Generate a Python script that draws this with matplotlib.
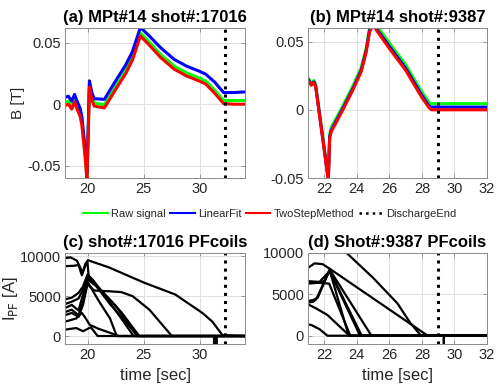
import numpy as np
import matplotlib
matplotlib.use("Agg")
import matplotlib.pyplot as plt
from matplotlib.lines import Line2D

plt.rcParams['font.family'] = ['Liberation Sans', 'DejaVu Sans']

# ---- panel (a): MPt#14, shot 17016 ----
t_a = [18.0, 18.3, 18.6, 18.85, 19.05, 19.35, 19.5, 19.8, 19.95, 20.05, 20.17, 20.4, 20.6, 21.5,
       22.5, 23.4, 24.0, 24.7, 25.5, 26.5, 27.7, 28.8, 29.9, 30.5, 31.3, 32.1, 33.0, 34.0]
red_a = [-0.001, 0.000, -0.004, 0.002, -0.0035, -0.010, -0.017, -0.044, -0.062, -0.030, 0.014, 0.003,
         -0.0015, -0.003, 0.012, 0.025, 0.036, 0.0555, 0.048, 0.038, 0.0285, 0.023, 0.019, 0.0165,
         0.009, 0.0005, 0.000, 0.000]
green_a = [0.0015, 0.0025, -0.0015, 0.0045, -0.001, -0.0075, -0.0145, -0.0415, -0.060, -0.0275, 0.0165,
           0.0055, 0.001, -0.0005, 0.0145, 0.0275, 0.0385, 0.058, 0.0505, 0.0405, 0.031, 0.0255, 0.0215,
           0.019, 0.0115, 0.003, 0.003, 0.003]
blue_a = [0.0055, 0.0065, 0.0025, 0.008, 0.003, -0.0035, -0.010, -0.037, -0.056, -0.024, 0.019, 0.009,
          0.0045, 0.004, 0.019, 0.032, 0.043, 0.0625, 0.0555, 0.046, 0.0365, 0.031, 0.027, 0.0245,
          0.018, 0.0095, 0.0095, 0.010]
end_a = 32.2

# ---- panel (b): MPt#14, shot 9387 ----
t_b = [21.0, 21.2, 21.37, 21.47, 22.25, 22.33, 22.43, 23.1, 23.76, 24.27, 24.58, 24.78, 25.0, 25.2,
       26.0, 27.0, 28.0, 28.46, 28.6, 30.0, 32.0]
red_b = [0.022, 0.018, 0.020, 0.017, -0.052, -0.021, -0.016, -0.001, 0.0146, 0.028, 0.0427, 0.057,
         0.063, 0.0585, 0.045, 0.029, 0.009, 0.0012, 0.000, 0.000, 0.000]
green_b = [0.0235, 0.0195, 0.0215, 0.0185, -0.050, -0.018, -0.013, 0.002, 0.0175, 0.031, 0.0455, 0.060,
           0.0655, 0.062, 0.049, 0.033, 0.013, 0.005, 0.0045, 0.0045, 0.0045]
blue_b = [0.0225, 0.0185, 0.0205, 0.0175, -0.051, -0.020, -0.015, 0.000, 0.0155, 0.029, 0.0437, 0.058,
          0.064, 0.0595, 0.0465, 0.0305, 0.0105, 0.0025, 0.002, 0.002, 0.002]
end_b = 29.0

# ---- panel (c): PF coil currents, shot 17016 ----
pf_c_t = [
    [18, 18.5, 19.05, 19.35, 19.55, 19.8, 20.03, 21.9, 25.0, 27.8, 30.2, 31.1, 32.0, 34],
    [18, 18.8, 19.2, 19.5, 19.8, 20.0, 20.1, 22.0, 24.5, 34],
    [18, 18.6, 19.2, 19.6, 20.0, 20.5, 22.0, 24.1, 34],
    [18, 18.6, 19.2, 19.6, 20.0, 20.5, 22.5, 24.4, 34],
    [18, 18.6, 19.2, 19.6, 20.0, 21.0, 23.0, 24.6, 34],
    [18, 18.6, 19.2, 19.6, 20.0, 21.0, 22.0, 22.6, 31.25, 31.25, 31.25, 34],
    [18, 18.6, 19.2, 19.6, 20.0, 20.6, 22.0, 23.0, 24.0, 25.5, 27.5, 31.45, 31.45, 31.45, 34],
    [18, 19.0, 19.5, 19.8, 20.2, 21.0, 22.8, 34],
    [18, 19.0, 19.6, 20.3, 20.9, 34],
]
pf_c_i = [
    [9750, 9850, 9450, 8600, 7900, 9000, 9500, 8600, 6700, 5200, 2900, 1800, 100, 0],
    [8750, 8800, 8900, 7600, 8800, 9200, 7500, 4000, 0, 0],
    [4600, 4800, 5400, 6200, 7700, 7000, 4200, 0, 0],
    [4000, 4300, 4700, 5800, 7400, 6800, 3800, 0, 0],
    [3500, 3900, 3200, 5200, 7100, 6000, 3000, 0, 0],
    [3000, 3300, 2600, 4300, 6800, 4400, 2200, 0, 0, -1300, 0, 0],
    [2600, 2900, 2400, 3900, 6500, 5700, 5600, 5500, 5000, 3300, 0, 0, -1300, 0, 0],
    [1800, 2200, 2900, 2300, 1400, 900, 0, 0],
    [800, 1000, 600, 1100, 0, 0],
]
end_c = 32.2

# ---- panel (d): PF coil currents, shot 9387 ----
pf_d_t = [
    [23.35, 25.0, 26.5, 27.3, 27.95, 32],
    [21.0, 21.4, 21.9, 22.33, 28.36, 32],
    [21.0, 21.7, 22.0, 22.33, 23.5, 32],
    [21.0, 21.7, 22.33, 24.2, 32],
    [21.0, 21.6, 22.3, 23.6, 32],
    [21.0, 21.3, 21.5, 22.33, 24.3, 32],
    [21.0, 21.3, 21.6, 22.33, 24.9, 32],
    [21.0, 21.5, 22.2, 23.55, 32],
    [21.0, 21.2, 21.7, 22.2, 29.35, 29.35, 29.35, 32],
]
pf_d_i = [
    [10050, 7000, 3900, 1500, 0, 0],
    [8200, 8750, 8650, 8100, 0, 0],
    [6400, 6500, 6600, 7900, 0, 0],
    [6600, 6500, 7800, 0, 0],
    [6300, 6400, 6300, 0, 0],
    [4000, 4100, 4400, 7900, 0, 0],
    [4200, 4300, 4600, 8000, 0, 0],
    [3800, 3300, 2500, 0, 0],
    [1350, 1300, 800, 0, 0, -1300, 0, 0],
]
end_d = 29.0

fig = plt.figure(figsize=(5.03, 3.87), dpi=100)
W, H = 503.0, 387.0


def box(x0, y0, x1, y1):
    return [x0 / W, 1 - y1 / H, (x1 - x0) / W, (y1 - y0) / H]


ax_a = fig.add_axes(box(65, 28, 245, 178))
ax_b = fig.add_axes(box(308, 28, 487, 178))
ax_c = fig.add_axes(box(65, 253, 245, 344))
ax_d = fig.add_axes(box(308, 253, 487, 344))


def matlab_style(ax):
    ax.grid(True, color='#dedede', lw=0.7)
    ax.set_axisbelow(True)
    for s in ax.spines.values():
        s.set_color('#8a8a8a')
        s.set_linewidth(0.7)
    ax.tick_params(direction='in', length=3, width=0.6, color='#8a8a8a',
                   top=True, right=True, labelsize=10.5, labelcolor='#262626', pad=3)


lw_sig = 2.2
for ax, t, g, b, r, end in [(ax_a, t_a, green_a, blue_a, red_a, end_a),
                            (ax_b, t_b, green_b, blue_b, red_b, end_b)]:
    ax.plot(t, g, color='#00ff00', lw=lw_sig)
    ax.plot(t, b, color='#0000ff', lw=lw_sig)
    ax.plot(t, r, color='#ff0000', lw=lw_sig)
    ax.axvline(end, color='k', ls=':', lw=2.2)
    ax.set_yticks([-0.05, 0, 0.05])
    ax.set_yticklabels(['-0.05', '0', '0.05'])
    matlab_style(ax)

for ax, ts, cs, end in [(ax_c, pf_c_t, pf_c_i, end_c), (ax_d, pf_d_t, pf_d_i, end_d)]:
    for t, c in zip(ts, cs):
        ax.plot(t, c, color='k', lw=1.6)
    ax.axvline(end, color='k', ls=':', lw=2.2)
    ax.set_yticks([0, 5000, 10000])
    matlab_style(ax)

ax_a.set_xlim(18, 34)
ax_a.set_ylim(-0.06, 0.062)
ax_a.set_xticks([20, 25, 30])
ax_b.set_xlim(21, 32)
ax_b.set_ylim(-0.05, 0.06)
ax_b.set_xticks([22, 24, 26, 28, 30, 32])
ax_c.set_xlim(18, 34)
ax_c.set_ylim(-1000, 10400)
ax_c.set_xticks([20, 25, 30])
ax_d.set_xlim(21, 32)
ax_d.set_ylim(-1000, 10000)
ax_d.set_xticks([22, 24, 26, 28, 30, 32])

tfont = dict(fontsize=12, fontweight='bold', color='k', pad=4)
ax_a.set_title('(a) MPt#14 shot#:17016', **tfont)
ax_b.set_title('(b) MPt#14 shot#:9387', **tfont)
ax_c.set_title('(c) shot#:17016 PFcoils', **tfont)
ax_d.set_title('(d) Shot#:9387 PFcoils', **tfont)

ax_a.set_ylabel('B [T]', fontsize=11, color='#262626', labelpad=2)
ax_c.set_ylabel(r'I$_{\rm PF}$ [A]', fontsize=12, color='#262626', labelpad=0)
ax_c.set_xlabel('time [sec]', fontsize=12, color='#262626', labelpad=4)
ax_d.set_xlabel('time [sec]', fontsize=12, color='#262626', labelpad=4)

handles = [Line2D([], [], color='#00ff00', lw=1.5),
           Line2D([], [], color='#0000ff', lw=1.5),
           Line2D([], [], color='#ff0000', lw=1.5),
           Line2D([], [], color='k', lw=1.8, ls=':')]
labels = ['Raw signal', 'LinearFit', 'TwoStepMethod', 'DischargeEnd']
fig.legend(handles, labels, loc='center', bbox_to_anchor=(270 / W, 1 - 214 / H), ncol=4,
           frameon=False, fontsize=8, handlelength=2.2, handletextpad=0.3, columnspacing=0.4,
           labelcolor='#262626')

fig.savefig('out.png', dpi=100)
